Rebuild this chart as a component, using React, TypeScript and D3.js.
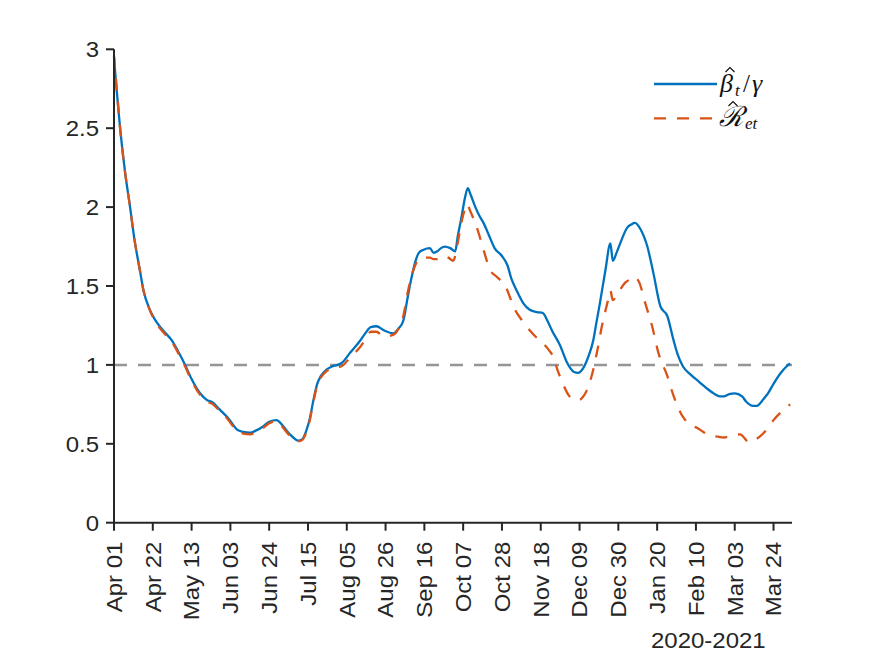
import React, { useEffect, useRef } from 'react';
import * as d3 from 'd3';

// days since 2020-04-01 and the value
const betaDays = [0, 1, 3.3, 6, 8.7, 11, 14, 16, 19, 22, 25, 28, 31, 35, 38.5, 42, 46.6, 50, 53.6, 57, 62, 66.6, 70, 73.7, 77, 80.7, 84, 88, 91, 93.7, 97, 99.7, 102, 104, 106, 108, 110, 112, 115, 118, 123, 128, 133, 136, 139, 142, 146, 151, 154, 156.6, 159, 161, 163, 165, 167.6, 171, 173, 175, 177, 179, 182, 184.7, 186, 188, 190, 191.5, 193, 195.6, 198, 200, 203, 206, 210, 213, 215, 218, 221.6, 225, 229, 232, 235, 237, 241.6, 245, 247, 249, 251, 254, 257, 259.5, 261, 263, 266, 268.7, 270, 272, 274, 277.8, 280, 282, 285, 288.7, 292, 295.8, 299.5, 302.8, 305, 308, 312, 317, 321, 324.5, 328, 330, 333, 336, 340, 342, 346, 348, 350, 352, 354, 357, 361, 364, 366];
const betaValues = [2.95, 2.8, 2.5, 2.22, 2.0, 1.8, 1.6, 1.47, 1.36, 1.29, 1.24, 1.2, 1.16, 1.08, 1.0, 0.91, 0.82, 0.78, 0.76, 0.72, 0.66, 0.59, 0.575, 0.57, 0.585, 0.61, 0.64, 0.65, 0.62, 0.58, 0.54, 0.52, 0.53, 0.58, 0.66, 0.78, 0.88, 0.93, 0.97, 0.99, 1.01, 1.08, 1.15, 1.2, 1.24, 1.245, 1.22, 1.2, 1.23, 1.28, 1.43, 1.55, 1.65, 1.71, 1.73, 1.74, 1.71, 1.72, 1.74, 1.75, 1.74, 1.72, 1.81, 1.93, 2.06, 2.12, 2.08, 2.0, 1.94, 1.9, 1.82, 1.74, 1.69, 1.63, 1.55, 1.47, 1.39, 1.35, 1.335, 1.33, 1.27, 1.22, 1.12, 1.02, 0.98, 0.955, 0.95, 0.98, 1.06, 1.16, 1.26, 1.39, 1.6, 1.77, 1.66, 1.71, 1.77, 1.87, 1.89, 1.9, 1.86, 1.75, 1.58, 1.37, 1.31, 1.16, 1.07, 0.99, 0.94, 0.89, 0.85, 0.82, 0.8, 0.8, 0.815, 0.82, 0.8, 0.77, 0.74, 0.74, 0.76, 0.79, 0.82, 0.88, 0.95, 0.99, 1.01];

const rDays = [0, 1, 3.3, 6, 8.7, 11, 14, 16, 19, 22, 25, 28, 31, 35, 38.5, 42, 46.6, 50, 53.6, 57, 62, 66.6, 70, 73.7, 77, 80.7, 84, 88, 91, 93.7, 97, 99.7, 102, 104, 106, 108, 110, 112, 115, 118, 123, 128, 133, 136, 139, 142, 146, 151, 154, 156.6, 159, 161, 163, 165, 167.6, 171, 173, 175, 178, 181, 183.6, 186, 188, 190, 191, 193, 197, 200, 203.7, 207, 211.8, 217, 221, 225, 229, 232, 235, 237.8, 240, 242.7, 246, 249, 252, 254, 256, 259, 261.6, 264, 267, 268.7, 270, 273, 276.6, 279, 281, 284, 287.6, 291.4, 294.6, 299.5, 303, 308, 312, 315.7, 319, 323, 327, 330, 334, 339, 341, 343.5, 346, 350, 354, 357, 361, 364, 366];
const rValues = [2.96, 2.82, 2.5, 2.22, 2.0, 1.8, 1.6, 1.47, 1.36, 1.28, 1.23, 1.19, 1.15, 1.07, 0.99, 0.9, 0.81, 0.77, 0.75, 0.71, 0.65, 0.58, 0.565, 0.56, 0.575, 0.6, 0.63, 0.645, 0.61, 0.57, 0.53, 0.515, 0.525, 0.57, 0.65, 0.77, 0.87, 0.92, 0.96, 0.98, 0.99, 1.05, 1.11, 1.16, 1.21, 1.21, 1.18, 1.19, 1.23, 1.31, 1.46, 1.56, 1.63, 1.67, 1.68, 1.68, 1.67, 1.67, 1.69, 1.68, 1.66, 1.77, 1.9, 1.99, 2.02, 1.97, 1.85, 1.73, 1.6, 1.56, 1.5, 1.35, 1.28, 1.22, 1.17, 1.14, 1.1, 1.05, 0.97, 0.89, 0.81, 0.78, 0.78, 0.8, 0.84, 0.95, 1.09, 1.24, 1.39, 1.47, 1.41, 1.46, 1.52, 1.54, 1.56, 1.53, 1.39, 1.24, 1.08, 0.93, 0.8, 0.67, 0.62, 0.6, 0.575, 0.55, 0.545, 0.54, 0.55, 0.56, 0.54, 0.51, 0.52, 0.55, 0.6, 0.65, 0.7, 0.73, 0.75];

const yTicks = [0, 0.5, 1, 1.5, 2, 2.5, 3];
const tickStepDays = 21;
const startDate = new Date(Date.UTC(2020, 3, 1));
const endDate = new Date(Date.UTC(2021, 3, 3));
const yearLabel = '2020-2021';

const W = 875;
const H = 656;
const margin = { top: 49.3, right: 83, bottom: 133.3, left: 114 };
const axisColor = '#262626';
const font = '"Liberation Sans", Arial, Helvetica, sans-serif';
const fontSize = 22;
const stretch = 1.09;

const dayToDate = (d: number) => new Date(startDate.getTime() + d * 86400000);

const App: React.FC = () => {
  const svgRef = useRef<SVGSVGElement>(null);

  useEffect(() => {
    if (!svgRef.current) return;
    const svg = d3.select(svgRef.current);
    svg.selectAll('*').remove();

    const innerW = W - margin.left - margin.right;
    const innerH = H - margin.top - margin.bottom;

    const x = d3.scaleUtc().domain([startDate, endDate]).range([0, innerW]);
    const y = d3.scaleLinear().domain([0, 3]).range([innerH, 0]);

    const g = svg.append('g').attr('transform', `translate(${margin.left},${margin.top})`);

    // reference line at 1
    g.append('line')
      .attr('x1', 0).attr('x2', innerW)
      .attr('y1', y(1)).attr('y2', y(1))
      .attr('stroke', '#969696')
      .attr('stroke-width', 2.5)
      .attr('stroke-dasharray', '13,11');

    const line = d3.line<[number, number]>()
      .x(d => x(dayToDate(d[0])))
      .y(d => y(d[1]))
      .curve(d3.curveMonotoneX);

    const rData: [number, number][] = rDays.map((d, i) => [d, rValues[i]]);
    const betaData: [number, number][] = betaDays.map((d, i) => [d, betaValues[i]]);

    g.append('path')
      .attr('d', line(betaData) as string)
      .attr('fill', 'none')
      .attr('stroke', '#0072BD')
      .attr('stroke-width', 2.3);

    g.append('path')
      .attr('d', line(rData) as string)
      .attr('fill', 'none')
      .attr('stroke', '#D95319')
      .attr('stroke-width', 2.3)
      .attr('stroke-dasharray', '12,11');

    // axes
    const tickDates = d3.range(0, 358, tickStepDays).map(dayToDate);
    const xAxis = g.append('g').attr('transform', `translate(0,${innerH})`);
    xAxis.append('line').attr('x1', -1).attr('x2', innerW).attr('stroke', axisColor).attr('stroke-width', 2);
    const fmt = d3.utcFormat('%b %d');
    tickDates.forEach(t => {
      const px = x(t);
      xAxis.append('line').attr('x1', px).attr('x2', px).attr('y1', 0).attr('y2', 8)
        .attr('stroke', axisColor).attr('stroke-width', 2);
      xAxis.append('text')
        .attr('transform', `translate(${px + 7.8},19) rotate(-90) scale(${stretch},1)`)
        .attr('text-anchor', 'end')
        .attr('font-family', font)
        .attr('font-size', fontSize)
        .attr('fill', axisColor)
        .text(fmt(t));
    });

    const yAxis = g.append('g');
    yAxis.append('line').attr('y1', 0).attr('y2', innerH + 1).attr('stroke', axisColor).attr('stroke-width', 2);
    yTicks.forEach(v => {
      yAxis.append('line').attr('x1', -8).attr('x2', 0).attr('y1', y(v)).attr('y2', y(v))
        .attr('stroke', axisColor).attr('stroke-width', 2);
      yAxis.append('text')
        .attr('transform', `translate(-15,${y(v) + 8}) scale(${stretch},1)`)
        .attr('text-anchor', 'end')
        .attr('font-family', font)
        .attr('font-size', fontSize)
        .attr('fill', axisColor)
        .text(String(v));
    });

    svg.append('text')
      .attr('transform', `translate(651,648) scale(${stretch},1)`)
      .attr('font-family', font)
      .attr('font-size', fontSize)
      .attr('fill', axisColor)
      .text(yearLabel);

    // legend
    const lg = svg.append('g');
    lg.append('line').attr('x1', 654).attr('x2', 717).attr('y1', 84).attr('y2', 84)
      .attr('stroke', '#0072BD').attr('stroke-width', 2.3);
    lg.append('line').attr('x1', 654).attr('x2', 717).attr('y1', 118.3).attr('y2', 118.3)
      .attr('stroke', '#D95319').attr('stroke-width', 2.3).attr('stroke-dasharray', '12,11');

    const serif = '"Liberation Serif", "DejaVu Serif", serif';
    const addText = (tx: number, ty: number, s: string, size: number, italic: boolean) =>
      lg.append('text').attr('x', tx).attr('y', ty)
        .attr('font-family', serif).attr('font-size', size)
        .attr('font-style', italic ? 'italic' : 'normal')
        .attr('fill', '#111').text(s);
    const hat = (cx: number, top: number) =>
      lg.append('path')
        .attr('d', `M${cx - 4.5},${top + 4.5}L${cx},${top}L${cx + 4.5},${top + 4.5}`)
        .attr('fill', 'none').attr('stroke', '#111').attr('stroke-width', 1.2);

    addText(720, 92, '\u03B2', 26, true);
    hat(730, 67.5);
    addText(735, 96, 't', 17, true);
    addText(743, 92, '/', 25, false);
    addText(752, 92, '\u03B3', 26, true);

    addText(719, 126, '\u211B', 28, true);
    hat(733, 101.5);
    addText(745, 128.5, 'et', 17, true);
  }, []);

  return (
    <svg ref={svgRef} width={W} height={H}
      style={{ position: 'absolute', left: 0, top: 0, background: '#fff' }} />
  );
};

export default App;
